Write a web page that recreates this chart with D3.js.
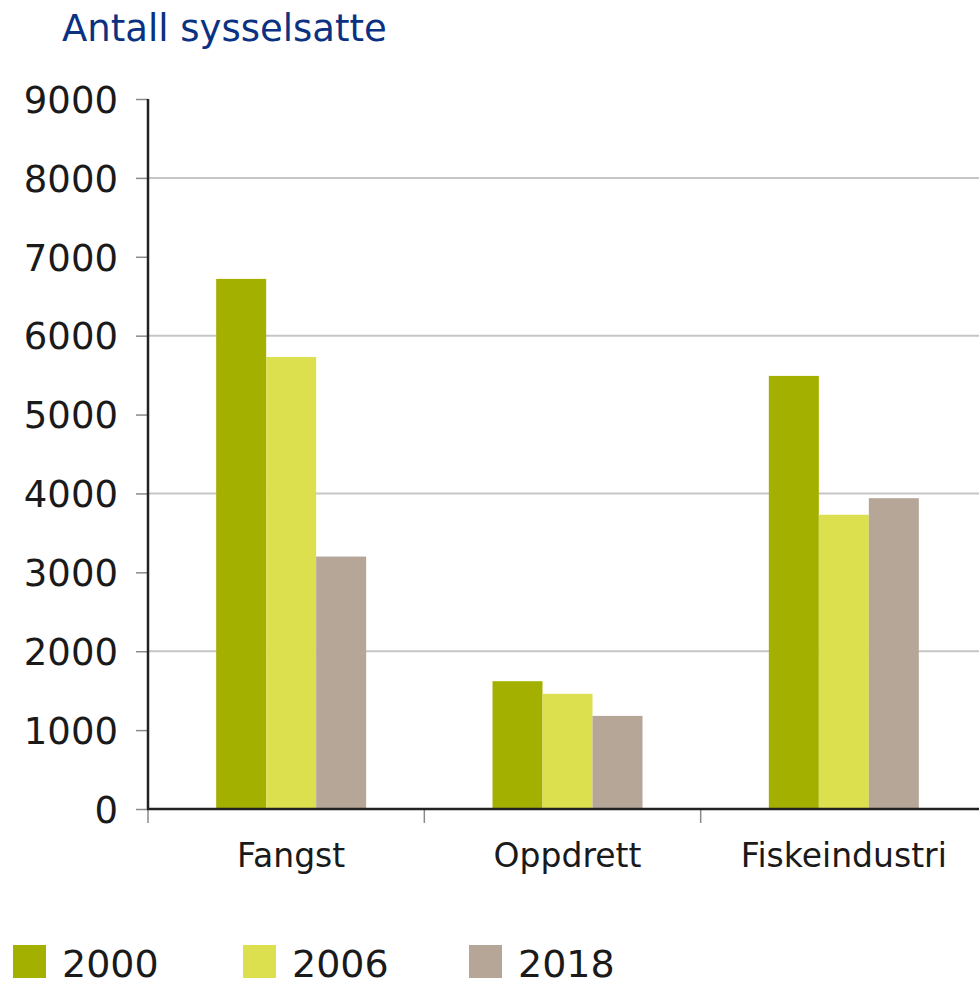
<!DOCTYPE html>
<html>
<head>
<meta charset="utf-8">
<script src="https://cdn.jsdelivr.net/npm/d3@7"></script>
<style>
  body { margin: 0; background: #fff; }
  text { font-family: "DejaVu Sans", sans-serif; }
</style>
</head>
<body>
<div id="chart"></div>
<script>
// data
var categories = ["Fangst", "Oppdrett", "Fiskeindustri"];
var years = ["2000", "2006", "2018"];
var values2000 = [6720, 1620, 5490];
var values2006 = [5730, 1460, 3730];
var values2018 = [3200, 1180, 3940];
var yTicks = [0, 1000, 2000, 3000, 4000, 5000, 6000, 7000, 8000, 9000];
var gridTicks = [2000, 4000, 6000, 8000];
var colors = ["#a4b000", "#dcdf4e", "#b5a698"];

var seriesValues = [values2000, values2006, values2018];

var width = 979, height = 986;
var plotLeft = 148, plotRight = 977, plotTop = 99, plotBottom = 809;

var svg = d3.select("#chart").append("svg")
    .attr("width", width)
    .attr("height", height);

// title
svg.append("text")
    .attr("x", 62)
    .attr("y", 41)
    .attr("fill", "#0b3182")
    .style("font-size", "37px")
    .text("Antall sysselsatte");

// scales
var y = d3.scaleLinear().domain([0, 9000]).range([plotBottom, plotTop]);
var x0 = d3.scaleBand().domain(categories).range([plotLeft, plotRight]);
var x1 = d3.scaleBand().domain(years).range([0, 150]);
var groupShift = (x0.bandwidth() - 150) / 2 + 5;

// gridlines on even thousands
svg.append("g").selectAll("line")
    .data(gridTicks)
    .enter()
    .append("line")
    .attr("x1", plotLeft)
    .attr("x2", width)
    .attr("y1", function(d) { return y(d); })
    .attr("y2", function(d) { return y(d); })
    .attr("stroke", "#c6c6c6")
    .attr("stroke-width", 2);

// bars
var groups = svg.append("g").selectAll("g")
    .data(categories)
    .enter()
    .append("g")
    .attr("transform", function(d) { return "translate(" + (x0(d) + groupShift) + ",0)"; });

groups.selectAll("rect")
    .data(function(d, i) {
        return years.map(function(yr, j) { return { year: yr, value: seriesValues[j][i], idx: j }; });
    })
    .enter()
    .append("rect")
    .attr("x", function(d) { return x1(d.year); })
    .attr("width", x1.bandwidth())
    .attr("y", function(d) { return y(d.value); })
    .attr("height", function(d) { return plotBottom - y(d.value); })
    .attr("fill", function(d) { return colors[d.idx]; });

// y axis
var yAxis = d3.axisLeft(y)
    .tickValues(yTicks)
    .tickFormat(d3.format("d"))
    .tickSize(12)
    .tickPadding(18);
var yAxisG = svg.append("g")
    .attr("transform", "translate(" + plotLeft + ",0)")
    .call(yAxis);
yAxisG.select(".domain").remove();
yAxisG.selectAll(".tick line").attr("stroke", "#8a8a8a").attr("stroke-width", 1.5);
yAxisG.selectAll(".tick text")
    .attr("fill", "#1a1a1a")
    .attr("dy", "0.36em")
    .style("font-size", "37px")
    .style("font-family", "DejaVu Sans, sans-serif");

svg.append("line")
    .attr("x1", plotLeft).attr("x2", plotLeft)
    .attr("y1", plotTop).attr("y2", plotBottom)
    .attr("stroke", "#222").attr("stroke-width", 2.5);

// x axis
svg.append("g").selectAll("line")
    .data(categories)
    .enter()
    .append("line")
    .attr("x1", function(d) { return x0(d); })
    .attr("x2", function(d) { return x0(d); })
    .attr("y1", plotBottom)
    .attr("y2", plotBottom + 14)
    .attr("stroke", "#8a8a8a")
    .attr("stroke-width", 1.5);

svg.append("line")
    .attr("x1", plotLeft - 1).attr("x2", width)
    .attr("y1", plotBottom).attr("y2", plotBottom)
    .attr("stroke", "#222").attr("stroke-width", 2.5);

svg.append("g").selectAll("text")
    .data(categories)
    .enter()
    .append("text")
    .attr("x", function(d) { return x0(d) + groupShift + 75; })
    .attr("y", 867)
    .attr("text-anchor", "middle")
    .attr("fill", "#1a1a1a")
    .style("font-size", "33px")
    .text(function(d) { return d; });

// legend
var legendX = [13, 243, 469];
var legend = svg.append("g").selectAll("g")
    .data(years)
    .enter()
    .append("g")
    .attr("transform", function(d, i) { return "translate(" + legendX[i] + ",945)"; });

legend.append("rect")
    .attr("width", 33)
    .attr("height", 33)
    .attr("fill", function(d, i) { return colors[i]; });

legend.append("text")
    .attr("x", 49)
    .attr("y", 32)
    .attr("fill", "#1a1a1a")
    .style("font-size", "38px")
    .text(function(d) { return d; });
</script>
</body>
</html>
